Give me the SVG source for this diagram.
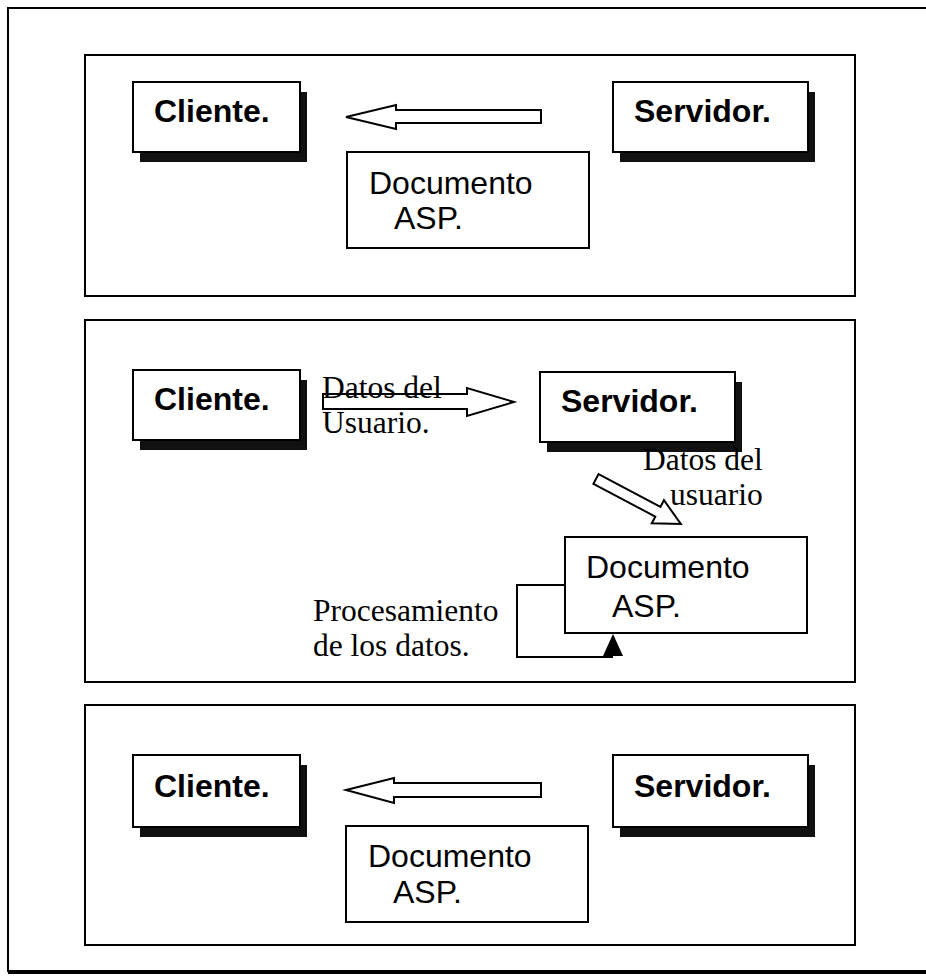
<svg xmlns="http://www.w3.org/2000/svg" width="926" height="977" viewBox="0 0 926 977">
<style>
.panel{fill:none;stroke:#000;stroke-width:2}
.box{fill:#fff;stroke:#000;stroke-width:2}
.shadow{fill:#111}
.lbl{font-family:"Liberation Sans",Arial,sans-serif;font-weight:bold;font-size:32px;fill:#000}
.doc{font-family:"Liberation Sans",Arial,sans-serif;font-size:32px;fill:#000}
.note{font-family:"Liberation Serif","Times New Roman",serif;font-size:31.5px;fill:#000}
.arrow{fill:#fff;stroke:#000;stroke-width:2;stroke-linejoin:miter}
.line{fill:none;stroke:#000;stroke-width:2}
</style>
<rect width="926" height="977" fill="#fff"/>
<g id="frame">
<path d="M926,8 H8 V972" class="line"/>
<line x1="8" y1="972" x2="926" y2="972" stroke="#000" stroke-width="4"/>
</g>
<g id="panel1">
<rect x="85" y="55" width="770" height="241" class="panel"/>
<g id="cliente1"><rect x="140" y="92" width="167" height="70" class="shadow"/><rect x="133" y="82" width="167" height="70" class="box"/><text x="154" y="122" class="lbl">Cliente.</text></g>
<g id="servidor1"><rect x="620" y="92" width="195" height="70" class="shadow"/><rect x="613" y="82" width="195" height="70" class="box"/><text x="634" y="122" class="lbl">Servidor.</text></g>
<g id="doc1"><rect x="347" y="152" width="242" height="96" class="box"/><text x="369" y="194" class="doc">Documento</text><text x="394" y="229" class="doc">ASP.</text></g>
</g>
<g id="panel2">
<rect x="85" y="320" width="770" height="362" class="panel"/>
<g id="cliente2"><rect x="140" y="380" width="167" height="70" class="shadow"/><rect x="133" y="370" width="167" height="70" class="box"/><text x="154" y="410" class="lbl">Cliente.</text></g>
<g id="servidor2"><rect x="547" y="382" width="195" height="70" class="shadow"/><rect x="540" y="372" width="195" height="70" class="box"/><text x="561" y="412" class="lbl">Servidor.</text></g>
<g id="doc2"><rect x="565" y="537" width="242" height="96" class="box"/><text x="586" y="578" class="doc">Documento</text><text x="612" y="617" class="doc">ASP.</text></g>
<text x="313" y="621" class="note">Procesamiento</text>
<text x="313" y="656" class="note">de los datos.</text>
</g>
<g id="panel3">
<rect x="85" y="705" width="770" height="240" class="panel"/>
<g id="cliente3"><rect x="140" y="765" width="167" height="72" class="shadow"/><rect x="133" y="755" width="167" height="72" class="box"/><text x="154" y="797" class="lbl">Cliente.</text></g>
<g id="servidor3"><rect x="620" y="765" width="195" height="72" class="shadow"/><rect x="613" y="755" width="195" height="72" class="box"/><text x="634" y="797" class="lbl">Servidor.</text></g>
<g id="doc3"><rect x="346" y="826" width="242" height="96" class="box"/><text x="368" y="867" class="doc">Documento</text><text x="393" y="903" class="doc">ASP.</text></g>
</g>
<g id="connectors">
<polygon class="arrow" points="346,117 396,105 396,110 541,110 541,123 396,123 396,129"/>
<polygon class="arrow" points="514,402 467,388 467,394 323,394 323,409 467,409 467,416"/>
<polygon class="arrow" transform="translate(596,479) rotate(27.9)" points="0,-5.5 70,-5.5 70,-13 96,0 70,13 70,5.5 0,5.5"/>
<polygon class="arrow" points="346,790 394,778 394,783 541,783 541,797 394,797 394,803"/>
<polyline class="line" points="565,585 517,585 517,657 613,657"/>
<polygon points="613,634 603,656 623,656" fill="#000"/>
<text x="322" y="398" class="note">Datos del</text>
<text x="322" y="433" class="note">Usuario.</text>
<text x="643" y="470" class="note">Datos del</text>
<text x="670" y="505" class="note">usuario</text>
</g>
</svg>
